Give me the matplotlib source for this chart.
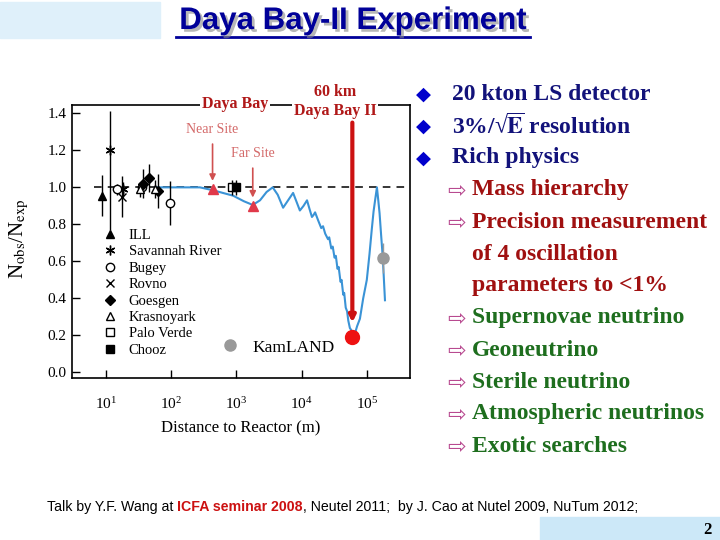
import matplotlib
matplotlib.use("Agg")
import matplotlib.pyplot as plt
import matplotlib.patheffects as pe
from matplotlib.lines import Line2D
from matplotlib.patches import Rectangle
from matplotlib.text import Annotation

plt.rcParams["font.family"] = ["Liberation Serif", "DejaVu Sans"]
plt.rcParams["mathtext.fontset"] = "stix"

# ---- data ----
# reactor experiments: distance (m), Nobs/Nexp, error
ill_x, ill_y, ill_err = [8.7], [0.955], [0.11]
sav_x, sav_y = [11.5, 18.2], [1.20, 0.99]
sav_err = [[0.43, 0.04], [0.21, 0.04]]
bug_x, bug_y, bug_err = [14.6, 36.0, 96.0], [0.99, 1.0, 0.915], [0.03, 0.03, 0.12]
rov_x, rov_y, rov_err = [17.5], [0.95], [0.11]
goe_x, goe_y, goe_err = [37.5, 45.6, 63.5], [1.02, 1.05, 0.98], [0.08, 0.075, 0.09]
kra_x, kra_y, kra_err = [33.0, 57.0], [0.99, 0.99], [0.04, 0.05]
pv_x, pv_y, pv_err = [850.0], [1.0], [0.04]
chooz_x, chooz_y, chooz_err = [1000.0], [1.0], [0.04]
kam_x, kam_y, kam_err = [176000.0], [0.62], [0.08]

# expected survival curve (distance m, ratio)
curve_x = [60, 150, 275, 430, 890, 1300, 1780, 2300, 2900, 3600, 4300, 5200,
           6200, 7400, 8400, 9400, 10700, 12100, 13300, 14400, 15200, 16100,
           18000, 20000, 21300, 23000, 25400, 26500, 28500, 30000, 32000,
           33500, 35500, 37000, 39500, 41000, 43500, 45000, 47500, 49900,
           52000, 55000, 60000, 65700, 71000, 78400, 88000, 100000, 110000,
           119000, 127000, 134000, 143000, 150000, 157000, 166000, 176000,
           190000]
curve_y = [1.0, 1.0, 1.0, 0.985, 0.955, 0.925, 0.905, 0.93, 0.975, 1.0, 0.96,
           0.89, 0.93, 0.97, 0.92, 0.875, 0.90, 0.93, 0.88, 0.84, 0.85, 0.865,
           0.82, 0.78, 0.79, 0.75, 0.72, 0.73, 0.67, 0.68, 0.62, 0.63, 0.56,
           0.57, 0.49, 0.50, 0.42, 0.43, 0.35, 0.33, 0.28, 0.24, 0.22, 0.21,
           0.25, 0.29, 0.40, 0.50, 0.64, 0.77, 0.87, 0.93, 1.0, 0.93, 0.86,
           0.74, 0.62, 0.39]

# Daya Bay sites
site_x, site_y = [430.0, 1780.0], [0.99, 0.90]
site_names = ["Near Site", "Far Site"]
site_label_y = [1.314, 1.184]
dyb2_x, dyb2_y = [60000.0], [0.19]

legend_names = ["ILL", "Savannah River", "Bugey", "Rovno", "Goesgen",
                "Krasnoyark", "Palo Verde", "Chooz"]

bullets = ["20 kton LS detector", "3%/\u221a$\\overline{\\mathbf{E}}$ resolution",
           "Rich physics"]
sub_items = [("Mass hierarchy", True), ("Precision measurement", True),
             ("of 4 oscillation", False), ("parameters to <1%", False),
             ("Supernovae neutrino", True), ("Geoneutrino", True),
             ("Sterile neutrino", True), ("Atmospheric neutrinos", True),
             ("Exotic searches", True)]
sub_colors = ["#a01010"] * 4 + ["#1e6e1e"] * 5

W, H = 720, 540


def fx(x):
    return x / W


def fy(y):
    return 1 - y / H


fig = plt.figure(figsize=(7.2, 5.4), dpi=100)

# ---- slide decoration ----
fig.patches.append(Rectangle((0, fy(38)), fx(160), 36 / H, transform=fig.transFigure,
                             color="#dff0fa", zorder=0))
fig.patches.append(Rectangle((fx(540), 0), fx(180), 23 / H, transform=fig.transFigure,
                             color="#cce8f8", zorder=0))
shadow = [pe.SimplePatchShadow(offset=(2, -2), shadow_rgbFace="#888888", alpha=0.6), pe.Normal()]
fig.text(fx(353), fy(21), "Daya Bay-II Experiment", ha="center", va="center",
         fontsize=22.5, fontweight="bold", color="#000099", family="Liberation Sans",
         path_effects=shadow)
ul = Line2D([fx(176), fx(530)], [fy(37), fy(37)], transform=fig.transFigure,
            color="#000099", lw=2, path_effects=shadow)
fig.lines.append(ul)

# ---- chart ----
ax = fig.add_axes([fx(72), fy(378), fx(410 - 72), (378 - 105) / H])
ax.set_xscale("log")
ax.set_xlim(3.0, 4.6e5)
ax.set_ylim(-0.03, 1.445)

ax.hlines(1.0, 6.5, 4.6e5, colors="black", linestyles=(0, (5, 4)), lw=1.1, zorder=1)
ax.plot(curve_x, curve_y, color="#3a93d6", lw=1.5, zorder=2)

eb = dict(ls="none", color="black", ecolor="black", elinewidth=1, capsize=0, zorder=3)
ax.errorbar(ill_x, ill_y, yerr=ill_err, marker="^", ms=6, **eb)
ax.errorbar(sav_x, sav_y, yerr=sav_err, marker=(6, 2, 0), ms=7, mew=1, **eb)
ax.errorbar(bug_x, bug_y, yerr=bug_err, marker="o", ms=6, mfc="white", mew=1, **eb)
ax.errorbar(rov_x, rov_y, yerr=rov_err, marker="x", ms=6, mew=1, **eb)
ax.errorbar(goe_x, goe_y, yerr=goe_err, marker="D", ms=5, **eb)
ax.errorbar(kra_x, kra_y, yerr=kra_err, marker="^", ms=6, mfc="white", mew=1, **eb)
ax.errorbar(pv_x, pv_y, yerr=pv_err, marker="s", ms=6, mfc="white", mew=1, **eb)
ax.errorbar(chooz_x, chooz_y, yerr=chooz_err, marker="s", ms=6, **eb)
ax.errorbar(kam_x, kam_y, yerr=kam_err, ls="none", marker="o", ms=8, color="#999999",
            ecolor="#999999", elinewidth=1, capsize=0, zorder=3)

ax.plot(site_x, site_y, ls="none", marker="^", ms=7, color="#e0394a", zorder=4)
for sx, sy, name, ly in zip(site_x, site_y, site_names, site_label_y):
    ax.annotate(name, xy=(sx, sy + 0.045), xytext=(sx, ly), ha="center", va="center",
                fontsize=10, color="#d46a6a",
                arrowprops=dict(arrowstyle="-|>", color="#d05050", lw=1.2,
                                mutation_scale=9, shrinkA=4, shrinkB=0))

ax.annotate("", xy=(dyb2_x[0], 0.27), xytext=(dyb2_x[0], 1.35),
            arrowprops=dict(arrowstyle="-|>", color="#cc1111", lw=3,
                            mutation_scale=9, shrinkA=0, shrinkB=0), zorder=5)
ax.plot(dyb2_x, dyb2_y, ls="none", marker="o", ms=10, color="#ee1111", zorder=6)

wb = dict(facecolor="white", edgecolor="none", pad=1.5)
ax.text(0.482, 1.004, "Daya Bay", transform=ax.transAxes, ha="center", va="center",
        fontsize=11.5, fontweight="bold", color="#b01818", bbox=wb, clip_on=False)
ax.text(0.778, 1.048, "60 km", transform=ax.transAxes, ha="center", va="center",
        fontsize=11.5, fontweight="bold", color="#b01818", clip_on=False)
ax.text(0.778, 0.978, "Daya Bay II", transform=ax.transAxes, ha="center", va="center",
        fontsize=11.5, fontweight="bold", color="#b01818", bbox=wb, clip_on=False)

# legend
handles = [
    Line2D([], [], ls="none", marker="^", color="black", ms=6),
    Line2D([], [], ls="none", marker=(6, 2, 0), color="black", ms=7, mew=1),
    Line2D([], [], ls="none", marker="o", color="black", mfc="white", ms=6),
    Line2D([], [], ls="none", marker="x", color="black", ms=6),
    Line2D([], [], ls="none", marker="D", color="black", ms=5),
    Line2D([], [], ls="none", marker="^", color="black", mfc="white", ms=6),
    Line2D([], [], ls="none", marker="s", color="black", mfc="white", ms=6),
    Line2D([], [], ls="none", marker="s", color="black", ms=6),
]
leg = ax.legend(handles, legend_names, loc="upper left", bbox_to_anchor=(0.073, 0.568),
                frameon=False, fontsize=10.5, handlelength=1.0, handletextpad=0.8,
                labelspacing=0.22, borderaxespad=0)
ax.add_artist(leg)
ax.legend([Line2D([], [], ls="none", marker="o", color="#999999", ms=8)], ["KamLAND"],
          loc="center left", bbox_to_anchor=(0.42, 0.112), frameon=False, fontsize=12.5,
          handlelength=1.0, handletextpad=0.8, borderaxespad=0)

ax.set_yticks([0.0, 0.2, 0.4, 0.6, 0.8, 1.0, 1.2, 1.4])
ax.set_xticks([10, 100, 1000, 1e4, 1e5])
ax.minorticks_off()
ax.tick_params(axis="both", direction="in", length=6, width=1, labelsize=11)
ax.tick_params(axis="x", pad=13)
ax.tick_params(axis="y", pad=4)
for s in ax.spines.values():
    s.set_linewidth(1.2)
ax.set_xlabel("Distance to Reactor (m)", fontsize=12)
ax.xaxis.set_label_coords(0.5, -0.155)
ax.set_ylabel(r"N$_{\rm obs}$/N$_{\rm exp}$", fontsize=15)
ax.yaxis.set_label_coords(-0.12, 0.51)

# ---- bullet list ----
row_y = [94 + 32 * i for i in range(12)]
for i, txt in enumerate(bullets):
    fig.text(fx(423), fy(row_y[i]), "\u25c6", ha="center", va="center", fontsize=14,
             color="#0000cc", family="DejaVu Sans")
    fig.text(fx(452), fy(row_y[i]), txt, ha="left", va="center", fontsize=17,
             fontweight="bold", color="#12127a")
for j, (txt, arrow) in enumerate(sub_items):
    yy = fy(row_y[3 + j])
    if arrow:
        fig.text(fx(457), yy, "\u21e8", ha="center", va="center", fontsize=16,
                 color="#b84a90", family="DejaVu Sans")
    fig.text(fx(472), yy, txt, ha="left", va="center", fontsize=17,
             fontweight="bold", color=sub_colors[j])

# ---- footer ----
fs_foot = 10.2
t1 = fig.text(fx(47), fy(507), "Talk by Y.F. Wang at ", ha="left", va="center",
              fontsize=fs_foot, family="Liberation Sans")
a2 = fig.add_artist(Annotation("ICFA seminar 2008", xy=(1, 0), xycoords=t1,
                               va="bottom", fontsize=fs_foot, family="Liberation Sans",
                               fontweight="bold", color="#cc1111"))
fig.add_artist(Annotation(", Neutel 2011;  by J. Cao at Nutel 2009, NuTum 2012;",
                          xy=(1, 0), xycoords=a2, va="bottom", fontsize=fs_foot,
                          family="Liberation Sans"))
fig.text(fx(707), fy(530), "2", ha="center", va="center", fontsize=12,
         fontweight="bold")

fig.savefig("out.png", dpi=100)
